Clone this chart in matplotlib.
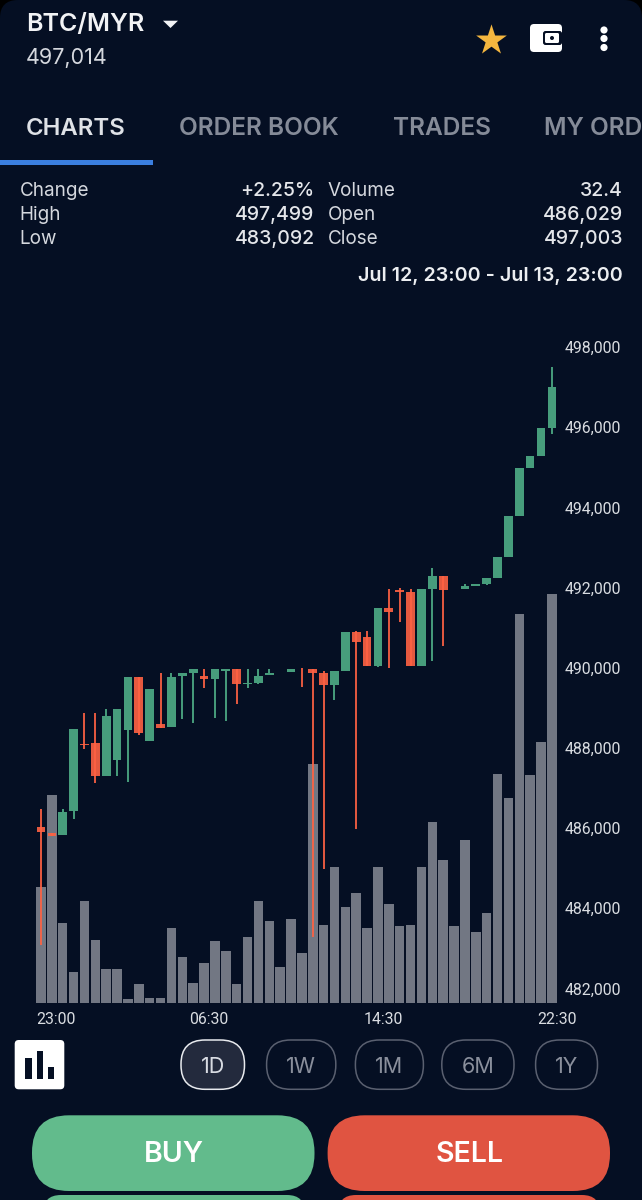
"""BTC/MYR 1D chart screen"""

import matplotlib
matplotlib.use("Agg")
import matplotlib.pyplot as plt
from matplotlib.patches import FancyBboxPatch, Circle, Rectangle, Polygon
from matplotlib.transforms import ScaledTranslation
from matplotlib.ticker import FuncFormatter

plt.rcParams["font.family"] = ["Inter", "DejaVu Sans"]

BG = "#050f23"
GREEN = "#479d7c"
RED = "#ff6243"
GREY = "#727783"

# half-hour candles, 23:00 -> 22:30 (index 22 has no candle on the chart)
opens = [486029, 485886, 485820, 486430, 488105, 488130, 487300, 487700, 488450, 489775,
         488180, 488595, 488515, 489785, 489870, 489800, 489725, 489925, 489975, 489585,
         489610, 489820, None, 489885, 489752, 489970, 489875, 489570, 489925, 490885,
         490775, 490050, 491480, 491945, 491880, 490045, 491970, 492295, 491940, 491955,
         492040, 492090, 492230, 492755, 493785, 494975, 495275, 495970]
closes = [485896, 485803, 486410, 488470, 488075, 487310, 488800, 488980, 489775, 488365,
          489475, 488505, 489775, 489860, 489970, 489725, 489970, 489975, 489595, 489610,
          489800, 489875, None, 489970, 489748, 489870, 489570, 489920, 490885, 490650,
          490050, 491480, 491395, 491880, 490045, 491970, 492295, 491940, 491950, 492040,
          492080, 492230, 492755, 493785, 494975, 495275, 495970, 497003]
highs = [486470, 485886, 486470, 488470, 488865, 488865, 488970, 488980, 489775, 489775,
         489475, 489860, 489860, 489860, 489970, 489970, 489970, 489975, 489975, 489975,
         489975, 489975, None, 489970, 489985, 489970, 489920, 489920, 490885, 490925,
         490915, 491480, 491965, 491980, 491970, 491970, 492480, 492295, 491950, 492090,
         492080, 492230, 492755, 493785, 494975, 495275, 495970, 497499]
lows = [483092, 485803, 485820, 486230, 487975, 487135, 487300, 487300, 487160, 488320,
        488180, 488505, 488515, 488730, 488615, 489485, 488740, 488670, 489095, 489500,
        489595, 489820, None, 489885, 489510, 483290, 484980, 489195, 489925, 485970,
        490050, 490020, 489985, 491150, 490045, 490045, 490175, 490535, 491940, 491955,
        492040, 492065, 492230, 492755, 493785, 494975, 495275, 495830]
volumes = [0.734, 1.308, 0.508, 0.195, 0.646, 0.398, 0.214, 0.214, 0.025, 0.121,
           0.036, 0.036, 0.476, 0.294, 0.126, 0.256, 0.390, 0.327, 0.121, 0.415,
           0.646, 0.518, 0.226, 0.528, 0.315, 1.505, 0.491, 0.860, 0.608, 0.692,
           0.472, 0.860, 0.625, 0.489, 0.493, 0.855, 1.138, 0.901, 0.486, 1.025,
           0.447, 0.570, 1.440, 1.291, 2.447, 1.434, 1.641, 2.574]

price_ticks = [482000, 484000, 486000, 488000, 490000, 492000, 494000, 496000, 498000]
time_idx = [0, 15, 31, 47]
time_labels = ["23:00", "06:30", "14:30", "22:30"]

stats_left = [("Change", "+2.25%"), ("High", "497,499"), ("Low", "483,092")]
stats_right = [("Volume", "32.4"), ("Open", "486,029"), ("Close", "497,003")]
periods = ["1D", "1W", "1M", "6M", "1Y"]

fig = plt.figure(figsize=(6.42, 12), dpi=100, facecolor="black")

# ── screen layer in pixel coordinates ──
ui = fig.add_axes([0, 0, 1, 1])
ui.set_xlim(0, 642)
ui.set_ylim(1200, 0)
ui.axis("off")


def pill(x0, y0, x1, y1, r, fc, ec="none", lw=0):
    ui.add_patch(FancyBboxPatch((x0, y0), x1 - x0, y1 - y0, boxstyle=f"round,pad=0,rounding_size={r}",
                                fc=fc, ec=ec, lw=lw))


def label(x, y, s, size, color="#e4e6ea", weight="normal", ha="left"):
    ui.text(x, y, s, fontsize=size, color=color, fontweight=weight, ha=ha, va="baseline")


pill(0, 0, 642, 1300, 18, BG)

# header
label(26, 30.5, "BTC/MYR", 18, "#f2f3f5", "semibold")
ui.add_patch(Polygon([(163, 20.7), (178, 20.7), (170.5, 28)], fc="#f2f3f5", ec="none"))
label(26, 64, "497,014", 15.5, "#d5d8de")
ui.scatter([490.5], [39.5], marker="*", s=540, color="#f4b63f", linewidths=0)
pill(530, 24, 562, 52, 4, "white")
pill(543, 31, 562, 45, 2.5, BG)
pill(545, 33, 559, 43, 1.5, "white")
ui.add_patch(Circle((552, 38), 2, fc=BG, ec="none"))
for y in [30, 38.5, 47.5]:
    ui.add_patch(Circle((604, y), 3.6, fc="white", ec="none"))

# tabs
label(26, 135, "CHARTS", 17.2, "#dfe2e7", "semibold")
label(179, 135, "ORDER BOOK", 17.6, "#858b98", "semibold")
label(393.5, 135, "TRADES", 17.6, "#858b98", "semibold")
label(544, 135, "MY ORD", 17.6, "#858b98", "semibold")
ui.add_patch(Rectangle((0, 160), 153, 5, fc="#3b7fe0", ec="none"))

# stats block
for y, (name_a, val_a), (name_b, val_b) in zip([196, 220, 244], stats_left, stats_right):
    label(19.5, y, name_a, 13.6, "#d5d8de")
    label(314.5, y, val_a, 14, "#e4e6ea", "medium", ha="right")
    label(327.5, y, name_b, 13.6, "#d5d8de")
    label(623, y, val_b, 14, "#e4e6ea", "medium", ha="right")
label(623, 281, "Jul 12, 23:00 - Jul 13, 23:00", 14.2, "#eceef1", "semibold", ha="right")

# bottom controls
pill(14.7, 1040, 64.3, 1089.3, 4, "white")
for x0, x1, y0 in [(25.4, 32, 1058.3), (36.9, 43.4, 1051), (47.5, 53.6, 1067.3)]:
    ui.add_patch(Rectangle((x0, y0), x1 - x0, 1078.7 - y0, fc=BG, ec="none"))

pill_x = [(181, 244.5), (266.6, 335.8), (355.4, 423.4), (441.8, 514), (535.6, 597.5)]
for i, (name, (x0, x1)) in enumerate(zip(periods, pill_x)):
    if i == 0:
        pill(x0, 1040, x1, 1089.3, 24, "#232a3d", "#e8eaee", 1.1)
    else:
        pill(x0, 1040, x1, 1089.3, 24, "none", "#5a6070", 1.1)
    label((x0 + x1) / 2, 1073, name, 15.5, "#d8dbe2" if i == 0 else "#8a8f9c", ha="center")

pill(32, 1115.3, 314.5, 1191, 37, "#62bb8c")
pill(327.6, 1115.3, 610, 1191, 37, "#e05441")
pill(43, 1195, 305, 1240, 18, "#62bb8c")
pill(338, 1195, 600, 1240, 18, "#e05441")
label(174, 1162.5, "BUY", 20.5, "white", "semibold", ha="center")
label(470, 1162.5, "SELL", 20.5, "white", "semibold", ha="center")

# ── chart ──
rect = [30 / 642, (1200 - 1003.3) / 1200, 532 / 642, 673.3 / 1200]
x = list(range(len(volumes)))

ax_vol = fig.add_axes(rect, facecolor="none")
ax_vol.bar(x, volumes, width=0.875, color=GREY, linewidth=0)
ax_vol.set_xlim(-1.012, 47.93)
ax_vol.set_ylim(0, 4.235)
ax_vol.axis("off")

ax = fig.add_axes(rect, facecolor="none")
for i in x:
    if opens[i] is None:
        continue
    up = closes[i] >= opens[i]
    color = GREEN if up else RED
    alpha = 1 if up else 0.9
    ax.vlines(i, lows[i], highs[i], color=color, linewidth=1.4, alpha=alpha)
    ax.bar(i, abs(closes[i] - opens[i]), bottom=min(opens[i], closes[i]), width=0.8,
           color=color, linewidth=0, alpha=alpha)

ax.set_xlim(-1.012, 47.93)
ax.set_ylim(481631, 498423)
for side in ax.spines.values():
    side.set_visible(False)

ax.yaxis.tick_right()
ax.set_yticks(price_ticks)
ax.yaxis.set_major_formatter(FuncFormatter(lambda v, p: f"{v:,.0f}"))
ax.tick_params(axis="y", length=0, pad=2.2, labelsize=11.4, labelcolor="#d9dce1")
ax.set_xticks(time_idx)
ax.set_xticklabels(time_labels)
ax.tick_params(axis="x", length=0, pad=6, labelsize=11.4, labelcolor="#d9dce1")
for t in ax.get_yticklabels() + ax.get_xticklabels():
    t.set_fontfamily(["Roboto", "DejaVu Sans"])

# time labels sit a little right of their bar, the first one starts at the bar's left edge
for i, t in enumerate(ax.get_xticklabels()):
    if i == 0:
        t.set_ha("left")
        dx = -4.3
    else:
        dx = 5
    t.set_transform(t.get_transform() + ScaledTranslation(dx / 100, 0, fig.dpi_scale_trans))

fig.savefig("out.png", dpi=100, facecolor="black")
plt.close(fig)
